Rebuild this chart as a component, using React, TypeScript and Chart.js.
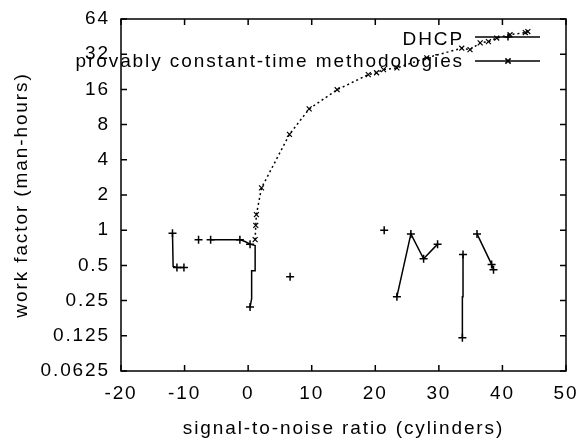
import React, { useEffect, useRef } from "react";
import { Chart, registerables } from "chart.js";

Chart.register(...registerables);

const FONT_FAMILY = "'Liberation Sans', Arial, sans-serif";
const FONT_SIZE = 19;
const LETTER_SPACING = "1.9px";

const xTickValues = [-20, -10, 0, 10, 20, 30, 40, 50];
const yTickValues = [0.0625, 0.125, 0.25, 0.5, 1, 2, 4, 8, 16, 32, 64];
const yTickLabels = ["0.0625", "0.125", "0.25", "0.5", "1", "2", "4", "8", "16", "32", "64"];

const xTitle = "signal-to-noise ratio (cylinders)";
const yTitle = "work factor (man-hours)";

const seriesNames = ["DHCP", "provably constant-time methodologies"];

// DHCP: broken segments (NaN x / null y = gap)
const dhcpX = [
  -11.9, -11.8, -11.2, -10.1, NaN,
  -7.8, NaN,
  -5.9, -1.3, -0.5, 0.3, 1.1, 1.1, 0.55, 0.55, 0.3, NaN,
  6.6, NaN,
  21.4, NaN,
  23.4, 25.6, 27.6, 29.8, NaN,
  33.8, 33.8, 33.7, 33.7, NaN,
  36.0, 38.3, 38.6,
];
const dhcpY = [
  0.94, 0.49, 0.48, 0.48, null,
  0.83, null,
  0.83, 0.83, 0.8, 0.76, 0.74, 0.45, 0.45, 0.26, 0.22, null,
  0.4, null,
  1.0, null,
  0.27, 0.93, 0.57, 0.76, null,
  0.62, 0.27, 0.27, 0.12, null,
  0.93, 0.51, 0.46,
];
const dhcpMarker = [
  true, false, true, true, false,
  true, false,
  true, true, false, true, false, false, false, false, true, false,
  true, false,
  true, false,
  true, true, true, true, false,
  true, false, false, true, false,
  true, true, true,
];

// provably constant-time methodologies: rising curve
const pctX = [1.1, 1.2, 1.3, 2.1, 6.5, 9.6, 14.0, 18.9, 20.2, 21.3, 23.4, 28.1, 33.6, 34.9, 36.5, 37.8, 39.1, 41.2, 43.6, 44.0];
const pctY = [0.83, 1.1, 1.36, 2.3, 6.6, 10.9, 15.9, 21.4, 22.2, 23.6, 24.4, 29.8, 36, 35, 40, 41, 44, 47, 49, 50];

function setSpacing(chart: any) {
  try {
    (chart.ctx as any).letterSpacing = LETTER_SPACING;
  } catch (e) {}
}

const spacingPlugin = {
  id: "spacing",
  beforeInit: setSpacing,
  beforeUpdate: setSpacing,
  beforeLayout: setSpacing,
  beforeDraw: setSpacing,
};

function drawMarker(ctx: CanvasRenderingContext2D, style: string, x: number, y: number, r: number) {
  ctx.beginPath();
  if (style === "cross") {
    ctx.moveTo(x - r, y);
    ctx.lineTo(x + r, y);
    ctx.moveTo(x, y - r);
    ctx.lineTo(x, y + r);
  } else {
    const d = r * 0.75;
    ctx.moveTo(x - d, y - d);
    ctx.lineTo(x + d, y + d);
    ctx.moveTo(x - d, y + d);
    ctx.lineTo(x + d, y - d);
  }
  ctx.stroke();
}

const framePlugin = {
  id: "frame",
  beforeDatasetsDraw(chart: any) {
    const { ctx, chartArea } = chart;
    const { left, right, top, bottom } = chartArea;
    const xs = chart.scales.x;
    const ys = chart.scales.y;
    ctx.save();
    ctx.strokeStyle = "#000";
    ctx.lineWidth = 1.5;
    ctx.strokeRect(left, top, right - left, bottom - top);
    const tl = 6;
    ctx.beginPath();
    xTickValues.forEach((v) => {
      const px = xs.getPixelForValue(v);
      ctx.moveTo(px, bottom);
      ctx.lineTo(px, bottom - tl);
      ctx.moveTo(px, top);
      ctx.lineTo(px, top + tl);
    });
    yTickValues.forEach((v) => {
      const py = ys.getPixelForValue(v);
      ctx.moveTo(left, py);
      ctx.lineTo(left + tl, py);
      ctx.moveTo(right, py);
      ctx.lineTo(right - tl, py);
    });
    ctx.stroke();
    ctx.restore();
  },
  afterDatasetsDraw(chart: any) {
    const { ctx } = chart;
    ctx.save();
    (ctx as any).letterSpacing = LETTER_SPACING;
    ctx.font = `${FONT_SIZE}px ${FONT_FAMILY}`;
    ctx.fillStyle = "#000";
    ctx.textAlign = "right";
    ctx.textBaseline = "alphabetic";
    const textRight = 464;
    const lx0 = 475;
    const lx1 = 540;
    const rows = [
      { y: 37, base: 45, style: "cross" },
      { y: 61, base: 67, style: "crossRot" },
    ];
    rows.forEach((r, i) => {
      ctx.fillText(seriesNames[i], textRight, r.base);
      ctx.strokeStyle = "#000";
      ctx.lineWidth = 1.5;
      ctx.beginPath();
      ctx.moveTo(lx0, r.y);
      ctx.lineTo(lx1, r.y);
      ctx.stroke();
      drawMarker(ctx, r.style, 508, r.y, 3.5);
    });
    ctx.restore();
  },
};

export default function App() {
  const ref = useRef<HTMLCanvasElement | null>(null);

  useEffect(() => {
    document.body.style.margin = "0";
    const canvas = ref.current;
    if (!canvas) return;

    const dhcpData = dhcpX.map((x, i) => ({ x: isNaN(x) ? null : x, y: dhcpY[i] }));
    const pctData = pctX.map((x, i) => ({ x, y: pctY[i] }));

    const chart = new Chart(canvas, {
      type: "line",
      data: {
        datasets: [
          {
            label: seriesNames[0],
            data: dhcpData as any,
            borderColor: "#000",
            backgroundColor: "#000",
            borderWidth: 1.5,
            pointStyle: "cross",
            pointRadius: dhcpMarker.map((m) => (m ? 4 : 0)) as any,
            pointBorderWidth: 1.5,
            pointBorderColor: "#000",
            spanGaps: false,
            tension: 0,
            fill: false,
          },
          {
            label: seriesNames[1],
            data: pctData as any,
            borderColor: "#000",
            backgroundColor: "#000",
            borderWidth: 1.5,
            borderDash: [2, 3],
            pointStyle: "crossRot",
            pointRadius: 3.5,
            pointBorderWidth: 1.2,
            pointBorderColor: "#000",
            tension: 0,
            fill: false,
          },
        ],
      },
      options: {
        animation: false,
        responsive: false,
        devicePixelRatio: 1,
        layout: { padding: { top: 19, right: 19, left: 0, bottom: 0 } },
        plugins: {
          legend: { display: false },
          tooltip: { enabled: false },
        },
        scales: {
          x: {
            type: "linear",
            min: -20,
            max: 50,
            afterFit: (s: any) => {
              s.height = 70;
            },
            afterBuildTicks: (s: any) => {
              s.ticks = xTickValues.map((v) => ({ value: v }));
            },
            grid: { display: false },
            border: { display: false },
            ticks: {
              color: "#000",
              padding: 3,
              maxRotation: 0,
              autoSkip: false,
              font: { family: FONT_FAMILY, size: FONT_SIZE },
              callback: (v: any) => String(v),
            },
            title: {
              display: true,
              text: xTitle,
              color: "#000",
              font: { family: FONT_FAMILY, size: FONT_SIZE },
              padding: { top: 0, bottom: 1 },
            },
          },
          y: {
            type: "logarithmic",
            min: 0.0625,
            max: 64,
            afterFit: (s: any) => {
              s.width = 121;
            },
            afterBuildTicks: (s: any) => {
              s.ticks = yTickValues.map((v) => ({ value: v }));
            },
            grid: { display: false },
            border: { display: false },
            ticks: {
              color: "#000",
              padding: 3,
              autoSkip: false,
              font: { family: FONT_FAMILY, size: FONT_SIZE },
              callback: (_v: any, i: number) => yTickLabels[i],
            },
            title: {
              display: true,
              text: yTitle,
              color: "#000",
              font: { family: FONT_FAMILY, size: FONT_SIZE },
              padding: { top: 10, bottom: 0 },
            },
          },
        },
      },
      plugins: [spacingPlugin, framePlugin],
    });

    return () => chart.destroy();
  }, []);

  return (
    <div style={{ width: 585, height: 441 }}>
      <canvas ref={ref} width={585} height={441} style={{ display: "block" }} />
    </div>
  );
}
